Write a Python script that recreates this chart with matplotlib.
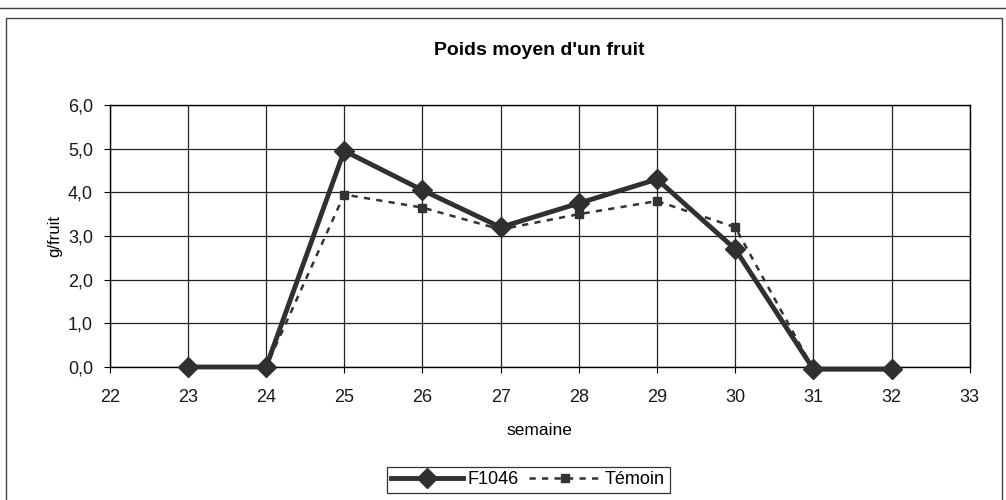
import matplotlib.pyplot as plt
from matplotlib.patches import Rectangle

plt.rcParams['font.family'] = ['Liberation Sans', 'DejaVu Sans']

semaines = [23, 24, 25, 26, 27, 28, 29, 30, 31, 32]
f1046 = [0.0, 0.0, 4.95, 4.05, 3.2, 3.75, 4.3, 2.7, -0.05, -0.05]
temoin = [0.0, 0.0, 3.95, 3.65, 3.15, 3.5, 3.8, 3.2, -0.05, -0.05]
yticks = [0.0, 1.0, 2.0, 3.0, 4.0, 5.0, 6.0]
xticks = list(range(22, 34))

fig = plt.figure(figsize=(10.06, 5.0), dpi=100)
ax = fig.add_axes([0.109, 0.266, 0.855, 0.524])

ax.plot(semaines, temoin, color='#333333', linestyle=(0, (2.5, 2.5)), linewidth=1.8,
        marker='s', markersize=6, label='Témoin', zorder=3, clip_on=False)
ax.plot(semaines, f1046, color='#303030', linewidth=3.5,
        marker='D', markersize=10, label='F1046', zorder=4, clip_on=False)

ax.set_xlim(22, 33)
ax.set_ylim(0, 6)
ax.set_xticks(xticks)
ax.set_yticks(yticks)
ax.set_yticklabels([f"{v:.1f}".replace('.', ',') for v in yticks])
ax.tick_params(labelsize=13, length=4, color='black', labelcolor='#1a1a1a')
ax.tick_params(axis='x', pad=12)
ax.tick_params(axis='y', pad=8)
ax.grid(True, color='#222222', linewidth=0.9)
for s in ax.spines.values():
    s.set_linewidth(1.0)
ax.set_axisbelow(True)

ax.set_title("Poids moyen d'un fruit", fontsize=14, fontweight='bold', pad=36)
ax.set_xlabel('semaine', fontsize=12.5, labelpad=12)
ax.set_ylabel('g/fruit', fontsize=12, labelpad=4)

handles, labels = ax.get_legend_handles_labels()
leg = fig.legend(handles[::-1], labels[::-1], loc='center', bbox_to_anchor=(0.525, 0.04),
                 ncol=2, frameon=True, fancybox=False, edgecolor='black', fontsize=13,
                 handlelength=4.0, columnspacing=0.6, handletextpad=0.2, borderpad=0.25)
leg.get_frame().set_linewidth(0.9)

fig.patches.append(Rectangle((0.006, -0.01), 0.99, 0.975, transform=fig.transFigure,
                             fill=False, edgecolor='#444444', linewidth=1.0))
fig.lines.append(plt.Line2D([0, 1], [0.985, 0.985], transform=fig.transFigure,
                            color='#444444', linewidth=1.0))

fig.savefig('out.png', dpi=100)
